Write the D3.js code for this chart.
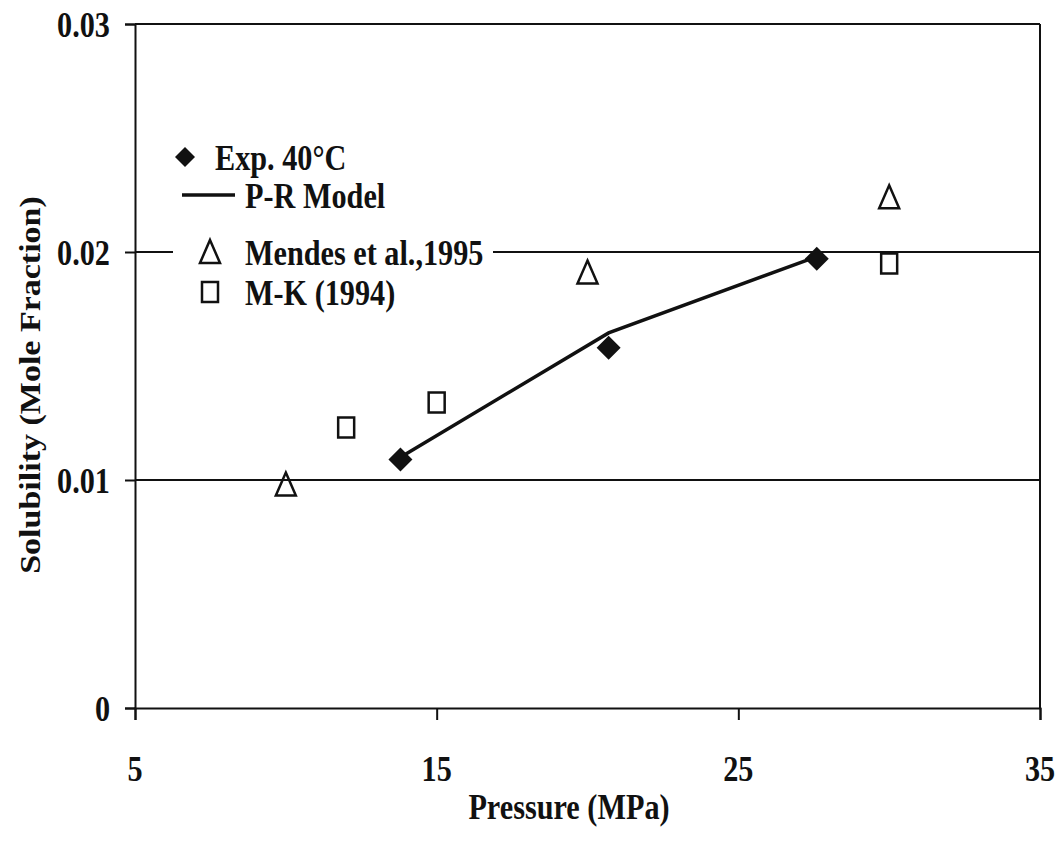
<!DOCTYPE html>
<html>
<head>
<meta charset="utf-8">
<script src="https://cdn.jsdelivr.net/npm/d3@7"></script>
<style>
  body { margin: 0; background: #fff; }
  text { font-family: "Liberation Serif", "Times New Roman", serif; font-weight: bold; fill: #111; }
</style>
</head>
<body>
<div class="canvas"></div>
<script>
// data
const expP = [13.8, 20.7, 27.6];
const expS = [0.0109, 0.0158, 0.0197];

const modelP = [13.8, 20.7, 27.6];
const modelS = [0.0110, 0.01645, 0.0198];

const mendesP = [10, 20, 30];
const mendesS = [0.0098, 0.0191, 0.0224];

const mkP = [12, 15, 30];
const mkS = [0.0123, 0.0134, 0.0195];

const xTicks = [5, 15, 25, 35];
const yTicks = [0, 0.01, 0.02, 0.03];
const yTickLabels = ['0', '0.01', '0.02', '0.03'];

const legendLabels = ['Exp. 40\u00b0C', 'P-R Model', 'Mendes et al.,1995', 'M-K (1994)'];

let svg = d3.select(".canvas").append("svg").attr("width", 1062).attr("height", 856)

let x = d3.scaleLinear().domain([5, 35]).range([135, 1040]);
let y = d3.scaleLinear().domain([0, 0.03]).range([708, 24]);

// squeezed bold serif like the scan
function label(t, px, py, anchor, rot) {
    let g = svg.append('g').attr('transform', 'translate(' + px + ',' + py + ')' + (rot ? ' rotate(' + rot + ') scale(1,0.88)' : ' scale(0.84,1)'));
    g.append('text')
        .text(t)
        .attr('font-size', rot ? 34 : 36)
        .attr('text-anchor', anchor)
        .attr('dy', '0.35em');
    return g;
}

// gridlines (0.01, 0.02) + top border
yTicks.slice(1).forEach(v => {
    svg.append('line')
        .attr('x1', x(5)).attr('x2', x(35))
        .attr('y1', y(v)).attr('y2', y(v))
        .attr('stroke', '#111').attr('stroke-width', 2);
});
// right border
svg.append('line')
    .attr('x1', x(35)).attr('x2', x(35))
    .attr('y1', y(0.03)).attr('y2', y(0))
    .attr('stroke', '#111').attr('stroke-width', 2);

// axes
let yAxis = svg.append('g')
    .attr('transform', 'translate(' + x(5) + ',0)')
    .call(d3.axisLeft(y).tickValues(yTicks).tickSize(10).tickFormat(''));
let xAxis = svg.append('g')
    .attr('transform', 'translate(0,' + y(0) + ')')
    .call(d3.axisBottom(x).tickValues(xTicks).tickSize(12).tickFormat(''));
[yAxis, xAxis].forEach(a => {
    a.select('.domain').attr('stroke', '#111').attr('stroke-width', 2);
    a.selectAll('.tick line').attr('stroke', '#111').attr('stroke-width', 2);
});

yTicks.forEach((v, i) => label(yTickLabels[i], 110, y(v), 'end'));
xTicks.forEach(v => label(v, x(v), 768, 'middle'));

label('Pressure (MPa)', 569, 806, 'middle');
label('Solubility (Mole Fraction)', 30, 385, 'middle', -90);

// marker shapes
function diamond(cx, cy, r) {
    return 'M' + cx + ',' + (cy - r) + 'L' + (cx + r) + ',' + cy + 'L' + cx + ',' + (cy + r) + 'L' + (cx - r) + ',' + cy + 'Z';
}
function triangle(cx, cy) {
    return 'M' + cx + ',' + (cy - 12) + 'L' + (cx + 10) + ',' + (cy + 11) + 'L' + (cx - 10) + ',' + (cy + 11) + 'Z';
}
function square(cx, cy) {
    return 'M' + (cx - 8) + ',' + (cy - 10) + 'h16v20h-16Z';
}

// P-R model line
svg.append('path')
    .attr('d', d3.line().x((d, i) => x(modelP[i])).y(d => y(d))(modelS))
    .attr('fill', 'none')
    .attr('stroke', '#111')
    .attr('stroke-width', 3.5);

expS.forEach((v, i) => {
    svg.append('path').attr('d', diamond(x(expP[i]), y(v), 12)).attr('fill', '#111');
});
mendesS.forEach((v, i) => {
    svg.append('path').attr('d', triangle(x(mendesP[i]), y(v)))
        .attr('fill', 'none').attr('stroke', '#111').attr('stroke-width', 2.5);
});
mkS.forEach((v, i) => {
    svg.append('path').attr('d', square(x(mkP[i]), y(v)))
        .attr('fill', 'none').attr('stroke', '#111').attr('stroke-width', 2.5);
});

// legend
let legY = [157, 195, 252, 292];
svg.append('rect').attr('x', 173).attr('y', 135).attr('width', 320).attr('height', 180).attr('fill', '#fff');

svg.append('path').attr('d', diamond(185, legY[0], 10)).attr('fill', '#111');
svg.append('line').attr('x1', 182).attr('x2', 235).attr('y1', legY[1]).attr('y2', legY[1])
    .attr('stroke', '#111').attr('stroke-width', 3.5);
svg.append('path').attr('d', triangle(210, legY[2])).attr('fill', 'none').attr('stroke', '#111').attr('stroke-width', 2.5);
svg.append('path').attr('d', square(210, legY[3])).attr('fill', 'none').attr('stroke', '#111').attr('stroke-width', 2.5);

label(legendLabels[0], 215, legY[0], 'start');
legendLabels.slice(1).forEach((t, i) => label(t, 245, legY[i + 1], 'start'));
</script>
</body>
</html>
